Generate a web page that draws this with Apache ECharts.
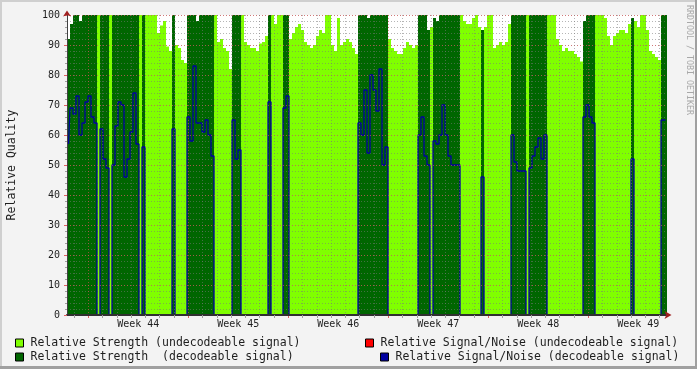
<!DOCTYPE html>
<html><head><meta charset="utf-8">
<script src="https://cdn.jsdelivr.net/npm/echarts@6/dist/echarts.min.js"></script>
<style>
html,body{margin:0;padding:0;background:#f3f3f3;}
#wrap{position:relative;width:697px;height:369px;overflow:hidden;}
#chart{position:absolute;left:0;top:0;width:697px;height:369px;}
.b{position:absolute;}
</style></head><body>
<div id="wrap"><div id="chart"></div>
<div class="b" style="left:0;top:0;width:697px;height:2px;background:#cfcfcf"></div>
<div class="b" style="left:0;top:0;width:2px;height:369px;background:#cfcfcf"></div>
<div class="b" style="left:0;bottom:0;width:697px;height:3px;background:#a0a0a0"></div>
<div class="b" style="right:0;top:0;width:2px;height:369px;background:#a0a0a0"></div>
</div>
<script>
// ---- data (one sample per ~1/4.76 day, 200 samples across 42 days) ----
const weekLabels = ['Week 44','Week 45','Week 46','Week 47','Week 48','Week 49'];
const legendNames = [
  'Relative Strength (undecodeable signal)',
  'Relative Strength  (decodeable signal)',
  'Relative Signal/Noise (undecodeable signal)',
  'Relative Signal/Noise (decodeable signal)'
];
// relative strength per sample
const strength = [
  92,97,100,100,98,100,100,100,100,100,
  100,100,100,100,100,100,100,100,100,100,
  100,100,100,100,100,100,100,100,100,100,
  94,96.5,98,89.5,88,100,90,89,85,84,
  100,100,100,98,100,100,100,100,100,100,
  91,92,89,88,82,100,100,100,100,91,
  90,89,89,88,90.5,91,93,100,100,97,
  100,100,100,100,92,94,96,97,95,91,
  90,89,90,93,95,94,100,100,90,88,
  99,90,91,92,91,89,87,100,100,100,
  99,100,100,100,100,100,100,92,89,88,
  87,87,89,91,90,89,90,100,100,100,
  95,96,99,98,100,100,100,100,100,100,
  100,100,98,97,97,99,100,96,95,96,
  100,100,89,90,91,90,91,97,100,100,
  100,100,100,100,100,100,100,100,100,100,
  100,100,100,92,90,88,89,88,88,87,
  86,84.5,98,100,100,100,100,100,100,99,
  93,90,93,94,95,95,94,97,99,98,
  96,100,100,95,88,87,86,85,100,100
];
// relative signal/noise per sample (0 where signal was not decodeable)
const snr = [
  57,69,67,73,60,64,71,73,66,64,
  0,62,52,49,0,50,63,71,70,46,
  52,61,74,57,0,56,0,0,0,0,
  0,0,0,0,0,62,0,0,0,0,
  66,58,83,64,64,61,65,60,53,0,
  0,0,0,0,0,65,52,55,0,0,
  0,0,0,0,0,0,0,71,0,0,
  0,0,69,73,0,0,0,0,0,0,
  0,0,0,0,0,0,0,0,0,0,
  0,0,0,0,0,0,0,64,60,75,
  54,80,75,68,82,50,56,0,0,0,
  0,0,0,0,0,0,0,60,66,53,
  50,0,58,57,60,70,60,53,50,50,
  50,0,0,0,0,0,0,0,46,0,
  0,0,0,0,0,0,0,0,60,51,
  48,48,48,0,49,53,56,59,52,60,
  0,0,0,0,0,0,0,0,0,0,
  0,0,66,70,66,64,0,0,0,0,
  0,0,0,0,0,0,0,0,52,0,
  0,0,0,0,0,0,0,0,65,65
];

// ---- derived series ----
const idx = strength.map((_, i) => i);
const lightData = strength.map((v, i) => snr[i] > 0 ? null : v);
const darkData = strength.map((v, i) => snr[i] > 0 ? v : null);

// time axis in days relative to Monday of the first labelled week
const X_MIN = -1.49, X_MAX = 40.51;
const weekTicks = weekLabels.map((_, k) => 7 * k);
const weekCenters = weekLabels.map((_, k) => 7 * k + 3.5);
const dayTicks = [];
for (let d = -1; d <= 40; d++) if (d % 7 !== 0) dayTicks.push(d);

const FONT = 'DejaVu Sans Mono';
const TXT = '#1e1e1e';
const MINOR = 'rgba(120,120,120,0.55)';
const MAJOR = 'rgba(225,80,80,0.6)';
const ARROW = '#a02020';

const chart = echarts.init(document.getElementById('chart'), null, {renderer: 'canvas'});
const legendCommon = {
  orient: 'horizontal', padding: 0, itemWidth: 8, itemHeight: 8, itemGap: 0,
  icon: 'rect', selectedMode: false,
  itemStyle: {borderColor: '#000', borderWidth: 1},
  textStyle: {fontFamily: FONT, fontSize: 11.5, color: TXT, padding: [0, 0, 0, 2]}
};
chart.setOption({
  animation: false,
  backgroundColor: '#f3f3f3',
  grid: {left: 67, top: 15, width: 600, height: 300, show: true, backgroundColor: '#ffffff', borderWidth: 0,
         containLabel: false, outerBoundsMode: 'none'},
  legend: [
    Object.assign({data: [legendNames[0]], left: 15, top: 337}, legendCommon),
    Object.assign({data: [legendNames[1]], left: 15, top: 351}, legendCommon),
    Object.assign({data: [legendNames[2]], left: 365, top: 337}, legendCommon),
    Object.assign({data: [legendNames[3]], left: 380, top: 351}, legendCommon)
  ],
  xAxis: [
    {type: 'category', data: idx, show: false, boundaryGap: true, position: 'bottom'},
    {type: 'value', min: X_MIN, max: X_MAX, position: 'bottom', z: 7,
     axisLine: {show: true, onZero: false, lineStyle: {color: '#303030', width: 2}},
     axisTick: {show: true, customValues: dayTicks, length: 3, lineStyle: {color: '#a0a0a0'}},
     axisLabel: {show: false},
     splitLine: {show: true, lineStyle: {color: MINOR, type: [1, 2], width: 1}}},
    {type: 'value', min: X_MIN, max: X_MAX, position: 'bottom', z: 4,
     axisLine: {show: false, onZero: false},
     axisTick: {show: true, customValues: weekTicks, length: 3, lineStyle: {color: '#e06060'}},
     axisLabel: {show: true, customValues: weekCenters, margin: 4, fontFamily: FONT, fontSize: 10, color: TXT,
                 formatter: v => weekLabels[Math.round((v - 3.5) / 7)]},
     splitLine: {show: true, lineStyle: {color: MAJOR, type: [1, 2], width: 1}}},
    {type: 'value', min: X_MIN, max: X_MAX, position: 'bottom', z: 8,
     axisLine: {show: true, onZero: false, symbol: ['none', 'arrow'], symbolSize: [6, 7], symbolOffset: [0, 4.5],
                lineStyle: {color: ARROW, width: 0}},
     axisTick: {show: false}, axisLabel: {show: false}, splitLine: {show: false}}
  ],
  yAxis: [
    {type: 'value', min: 0, max: 100, interval: 10, position: 'left', z: 7,
     axisLine: {show: true, onZero: false, lineStyle: {color: '#404040', width: 1}},
     axisTick: {show: true, length: 3, lineStyle: {color: '#e06060'}},
     axisLabel: {margin: 7, fontFamily: FONT, fontSize: 10, color: TXT},
     splitLine: {show: true, lineStyle: {color: MAJOR, type: [1, 2], width: 1}},
     name: 'Relative Quality', nameLocation: 'middle', nameGap: 49,
     nameTextStyle: {fontFamily: FONT, fontSize: 11.5, color: TXT}},
    {type: 'value', min: 0, max: 100, interval: 2, position: 'left', z: 3,
     axisLine: {show: false, onZero: false},
     axisTick: {show: true, length: 2, lineStyle: {color: '#a0a0a0'}},
     axisLabel: {show: false},
     splitLine: {show: true, lineStyle: {color: MINOR, type: [1, 2], width: 1}}},
    {type: 'value', min: 0, max: 100, interval: 10, position: 'left', z: 8,
     axisLine: {show: true, onZero: false, symbol: ['none', 'arrow'], symbolSize: [6, 6], symbolOffset: [0, 4.5],
                lineStyle: {color: ARROW, width: 0}},
     axisTick: {show: false}, axisLabel: {show: false}, splitLine: {show: false}}
  ],
  series: [
    {name: legendNames[0], type: 'bar', xAxisIndex: 0, yAxisIndex: 0, data: lightData,
     barWidth: '100%', barGap: '-100%', itemStyle: {color: '#80ff00'}, z: 2},
    {name: legendNames[1], type: 'bar', xAxisIndex: 0, yAxisIndex: 0, data: darkData,
     barWidth: '100%', barGap: '-100%', itemStyle: {color: '#006600'}, z: 2},
    {name: legendNames[2], type: 'line', xAxisIndex: 0, yAxisIndex: 0, data: [],
     itemStyle: {color: '#ff0000'}, lineStyle: {color: '#ff0000'}},
    {name: legendNames[3], type: 'line', xAxisIndex: 0, yAxisIndex: 0, data: snr,
     step: 'middle', symbol: 'none', itemStyle: {color: '#0000a0'},
     lineStyle: {color: '#0000a0', width: 1.3}, z: 6}
  ],
  graphic: [
    {type: 'text', x: 689, y: 5, rotation: -Math.PI / 2, z: 10,
     style: {text: 'RRDTOOL / TOBI OETIKER', font: '8.3px "DejaVu Sans Mono"', fill: '#a8a8a8',
             align: 'left', verticalAlign: 'middle'}}
  ]
});
</script>
</body></html>
